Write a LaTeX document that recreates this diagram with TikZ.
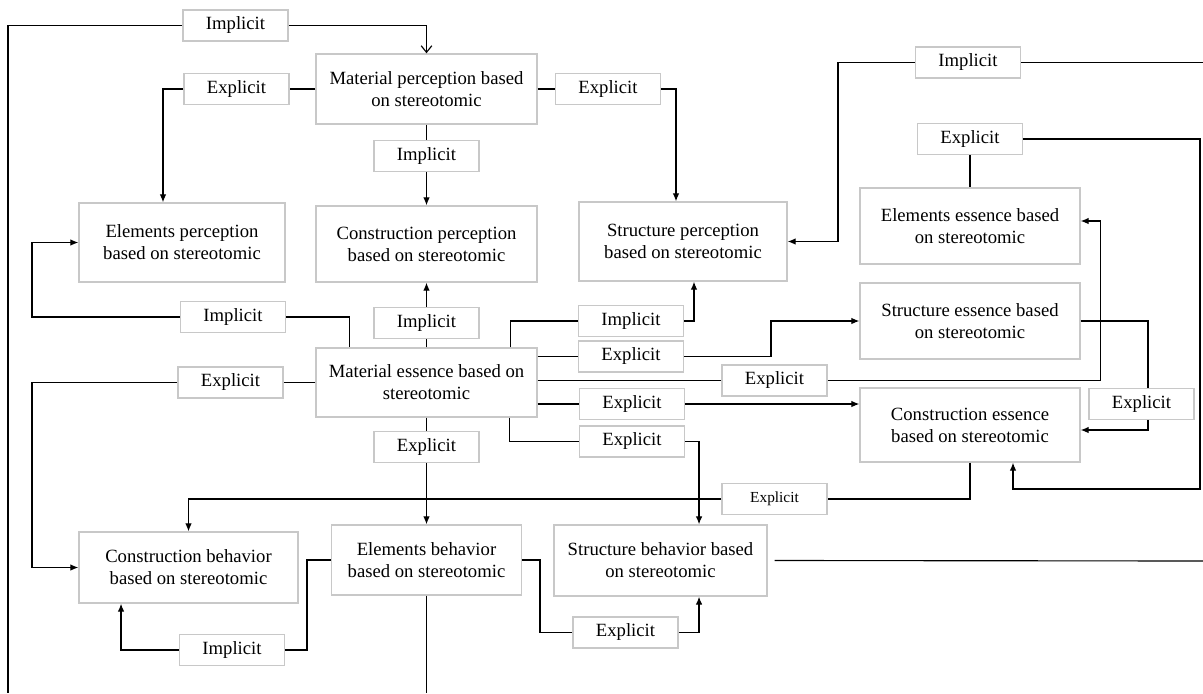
\documentclass[tikz,border=0pt]{standalone}
\usepackage{fontspec}
\setmainfont{Liberation Serif}
\usepackage{tikz}
\usetikzlibrary{arrows.meta, positioning}
\definecolor{boxgray}{RGB}{200,200,200}
\tikzstyle{block}=[draw=boxgray, line width=1.1pt, fill=white, align=center, inner sep=2pt, font=\fontsize{14}{16.5}\selectfont]
\tikzstyle{lbl}=[block, minimum width=79pt, minimum height=23.5pt]
\tikzstyle{wire}=[line width=0.85pt, >={Latex[length=6pt,width=5pt]}]

\begin{document}
\begin{tikzpicture}[x=0.75pt, y=-0.75pt]
		\useasboundingbox (0,0) rectangle (1203,693);
		\node[block, minimum width=165.75pt, minimum height=52.5pt] (matper) at (426.5,89) {Material perception based\\on stereotomic};
		\node[block, minimum width=154.5pt, minimum height=59.25pt] (eleper) at (182,242.5) {Elements perception\\based on stereotomic};
		\node[block, minimum width=165.75pt, minimum height=57pt] (conper) at (426.5,244) {Construction perception\\based on stereotomic};
		\node[block, minimum width=156pt, minimum height=59.25pt] (strper) at (683,241.5) {Structure perception\\based on stereotomic};
		\node[block, minimum width=165pt, minimum height=57pt] (eleess) at (970,226) {Elements essence based\\on stereotomic};
		\node[block, minimum width=165pt, minimum height=57pt] (stress) at (970,321) {Structure essence based\\on stereotomic};
		\node[block, minimum width=165.75pt, minimum height=51.75pt] (matess) at (426.5,382.5) {Material essence based on\\stereotomic};
		\node[block, minimum width=165pt, minimum height=55.5pt] (coness) at (970,425) {Construction essence\\based on stereotomic};
		\node[block, minimum width=164.25pt, minimum height=53.25pt] (conbeh) at (188.5,567.5) {Construction behavior\\based on stereotomic};
		\node[block, minimum width=142.5pt, minimum height=52.5pt] (elebeh) at (426.5,560) {Elements behavior\\based on stereotomic};
		\node[block, minimum width=159.75pt, minimum height=53.25pt] (strbeh) at (660.5,560.5) {Structure behavior based\\on stereotomic};

		\node[lbl] (imptop) at (235.5,25.5) {Implicit};
		\node[lbl] (expl1) at (236.5,89) {Explicit};
		\node[lbl] (expr1) at (608,89) {Explicit};
		\node[lbl] (impm1) at (426.5,156) {Implicit};
		\node[lbl] (impr1) at (968,62.5) {Implicit};
		\node[lbl] (expr2) at (970,139) {Explicit};
		\node[lbl] (impl2) at (233,317) {Implicit};
		\node[lbl] (impm2) at (426.5,323) {Implicit};
		\node[lbl] (impr2) at (631,321) {Implicit};
		\node[lbl] (expr3) at (631,356.5) {Explicit};
		\node[lbl] (expl3) at (230.5,382.5) {Explicit};
		\node[lbl] (expr4) at (774.5,380.5) {Explicit};
		\node[lbl] (expr5) at (632,404) {Explicit};
		\node[lbl] (expfar) at (1141.5,404) {Explicit};
		\node[lbl] (expr6) at (632,441.5) {Explicit};
		\node[lbl] (expm3) at (426.5,447) {Explicit};
		\node[lbl, font=\fontsize{11.5}{13}\selectfont] (expsmall) at (774.5,499) {Explicit};
		\node[lbl] (impbot) at (232,650) {Implicit};
		\node[lbl] (expbot) at (625.5,632.5) {Explicit};

		\coordinate (tailL) at (8,693);
		\coordinate (tailB) at (426.5,693);
		\coordinate (tailR1) at (1203,62.5);
		\coordinate (tailR2) at (1203,561);

		\draw[wire] (imptop.west) -| (tailL);
		\draw[wire, -{Straight Barb[length=5pt,width=8pt]}] (imptop.east) -| (matper.north);
		\draw[wire] (matper.west) -- (expl1.east);
		\draw[wire, ->] (expl1.west) -| ([xshift=-14.25pt]eleper.north);
		\draw[wire] (matper.east) -- (expr1.west);
		\draw[wire, ->] (expr1.east) -| ([xshift=-5.25pt]strper.north);
		\draw[wire] (matper.south) -- (impm1.north);
		\draw[wire, ->] (impm1.south) -- (conper.north);
		\draw[wire, ->] (impr1.west) -- (838,62.5) |- (strper.east);
		\draw[wire] (impr1.east) -- (tailR1);
		\draw[wire] (expr2.south) -- (eleess.north);
		\draw[wire, ->] (expr2.east) -| (1200,489) -| ([xshift=32.25pt]coness.south);
		\draw[wire] (stress.east) -| ([xshift=4.875pt]expfar.north);
		\draw[wire, ->] ([xshift=4.875pt]expfar.south) |- ([yshift=-3.75pt]coness.east);
		\draw[wire, ->] (impl2.west) -- (32,317) |- (eleper.west);
		\draw[wire] (impl2.east) -| ([xshift=-58pt]matess.north);
		\draw[wire] (matess.north) -- (impm2.south);
		\draw[wire, ->] (impm2.north) -- (conper.south);
		\draw[wire] ([xshift=63pt]matess.north) |- (impr2.west);
		\draw[wire, ->] (impr2.east) -| ([xshift=8.25pt]strper.south);
		\draw[wire] (matess.east |- expr3.west) -- (expr3.west);
		\draw[wire, ->] (expr3.east) -- (771,356.5) |- (stress.west);
		\draw[wire] (matess.east |- expr4.west) -- (expr4.west);
		\draw[wire, ->] (expr4.east) -- (1100.5,380.5) |- ([yshift=3.75pt]eleess.east);
		\draw[wire] (matess.east |- expr5.west) -- (expr5.west);
		\draw[wire, ->] (expr5.east) -- (coness.west |- expr5.east);
		\draw[wire] ([xshift=62.25pt]matess.south) |- (expr6.west);
		\draw[wire, ->] (expr6.east) -| ([xshift=28.9pt]strbeh.north);
		\draw[wire] (matess.south) -- (expm3.north);
		\draw[wire, ->] (expm3.south) -- (elebeh.north);
		\draw[wire] (matess.west) -- (expl3.east);
		\draw[wire, ->] (expl3.west) -- (32,382.5) |- (conbeh.west);
		\draw[wire] (coness.south) |- (expsmall.east);
		\draw[wire, ->] (expsmall.west) -| (conbeh.north);
		\draw[wire] (elebeh.west) -- (307,560) |- (impbot.east);
		\draw[wire, ->] (impbot.west) -| ([xshift=-50.6pt]conbeh.south);
		\draw[wire] (elebeh.east) -- (540,560) |- (expbot.west);
		\draw[wire, ->] (expbot.east) -| ([xshift=28.9pt]strbeh.south);
		\draw[wire] (elebeh.south) -- (tailB);
		\draw[wire] ([xshift=5.25pt]strbeh.east) -- (tailR2);
	\end{tikzpicture}
\end{document}
